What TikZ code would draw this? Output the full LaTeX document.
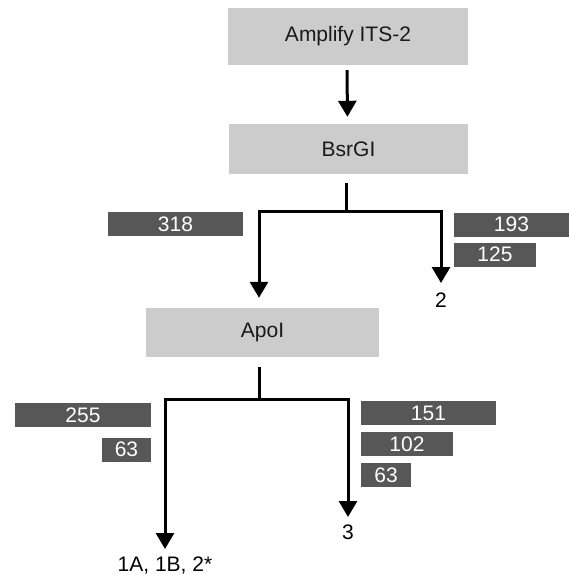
\documentclass[tikz,border=0pt]{standalone}
\usepackage{fontspec}
\setmainfont{Liberation Sans}
\usetikzlibrary{arrows.meta}
\definecolor{stagegray}{HTML}{CCCCCC}
\definecolor{bandgray}{HTML}{575757}

\begin{document}
\begin{tikzpicture}[x=1pt, y=-1pt,
    every node/.style={font=\fontsize{21}{25}\selectfont},
    stage/.style={fill=stagegray, text=black!90, inner sep=0pt},
    band/.style={fill=bandgray, text=white, inner sep=0pt, minimum height=24pt},
    result/.style={inner sep=0pt, anchor=north},
    stem/.style={line width=3pt},
    flow/.style={line width=3pt, -{Triangle[width=18pt,length=16pt]}}]
    \useasboundingbox (0,0) rectangle (569,575);

    % Steps
    \node[stage, minimum width=240pt, minimum height=57pt] (amplify) at (348,36.5) {Amplify ITS-2};
    \node[stage, minimum width=239pt, minimum height=50pt] (bsrgi) at (348.5,149) {BsrGI};
    \node[stage, minimum width=233pt, minimum height=49pt] (apoi) at (262.5,332.5) {ApoI};

    \draw[flow, shorten <=5pt, shorten >=7pt] ([xshift=-1pt]amplify.south) -- ([xshift=-1pt]bsrgi.north);

    % BsrGI fragments
    \node[band, minimum width=135pt] (b318) at (175.5,224) {318};
    \node[band, minimum width=115pt] (b193) at (511.5,224.5) {193};
    \node[band, minimum width=82pt] (b125) at (495,254.5) {125};
    \node[result] (r2) at (441,293) {2};

    \coordinate (bsrj) at (346,211);
    \draw[stem, shorten <=9pt] (bsrgi.south -| bsrj) -- (bsrj);
    \draw[flow, shorten >=10pt] (bsrj) -| ([xshift=-3.5pt]apoi.north);
    \draw[flow, shorten >=10pt] (bsrj) -| (r2.north);

    % ApoI fragments
    \node[band, minimum width=136pt] (a255) at (83,415) {255};
    \node[band, minimum width=49pt] (a63) at (126.5,449.5) {63};
    \node[band, minimum width=135pt] (a151) at (428.5,413) {151};
    \node[band, minimum width=92pt] (a102) at (407,444) {102};
    \node[band, minimum width=50pt] (a63b) at (386,475) {63};
    \node[result] (r1) at (165,557) {1A, 1B, 2*};
    \node[result] (r3) at (348,525) {3};

    \coordinate (apoj) at (259.5,399);
    \draw[stem, shorten <=10pt] (apoi.south -| apoj) -- (apoj);
    \draw[flow, shorten >=8pt] (apoj) -| (r1.north);
    \draw[flow, shorten >=8pt] (apoj) -| (r3.north);
\end{tikzpicture}
\end{document}
